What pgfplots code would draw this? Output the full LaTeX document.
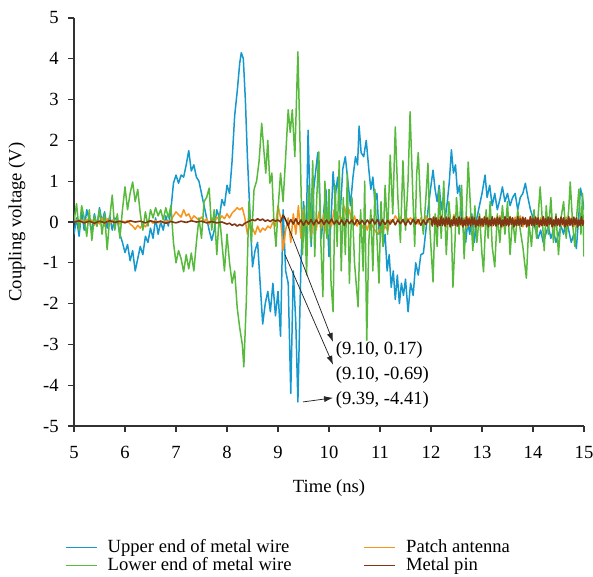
\documentclass[border=0pt]{standalone}
\usepackage{pgfplots}
\pgfplotsset{compat=1.18}
\usepackage{pgfplotstable}
\usepackage{fontspec}
\setmainfont{Liberation Serif}
\usetikzlibrary{arrows.meta}

\definecolor{cwireup}{RGB}{20,152,205}
\definecolor{cwirelow}{RGB}{88,186,60}
\definecolor{cpatch}{RGB}{247,148,30}
\definecolor{cpin}{RGB}{130,55,20}
\definecolor{axisgray}{RGB}{50,50,50}

% Upper end of metal wire
\pgfplotstableread{
t v
5.00 -0.30
5.05 0.10
5.10 -0.35
5.15 0.25
5.20 -0.20
5.25 0.30
5.30 0.05
5.35 -0.25
5.40 0.20
5.45 -0.10
5.50 0.35
5.55 0.00
5.60 0.25
5.65 -0.15
5.70 0.15
5.75 -0.20
5.80 0.10
5.85 0.05
5.90 -0.30
5.95 -0.50
6.00 -0.75
6.05 -0.55
6.10 -0.95
6.15 -0.70
6.20 -1.20
6.25 -0.90
6.30 -0.60
6.35 -0.80
6.40 -0.35
6.45 -0.50
6.50 -0.15
6.55 -0.40
6.60 0.10
6.65 -0.30
6.70 0.00
6.75 -0.20
6.80 0.15
6.85 -0.10
6.90 0.30
6.95 0.95
7.00 1.15
7.05 0.95
7.10 1.15
7.15 1.10
7.20 1.40
7.25 1.75
7.30 1.25
7.35 1.40
7.40 1.10
7.45 1.00
7.50 0.70
7.55 0.40
7.60 0.10
7.65 -0.20
7.70 -0.45
7.75 -0.20
7.80 0.30
7.85 0.10
7.90 0.55
7.95 0.40
8.00 0.90
8.05 0.70
8.10 1.50
8.15 2.60
8.20 3.20
8.25 3.90
8.28 4.15
8.32 4.00
8.36 3.00
8.40 1.60
8.45 0.20
8.50 -1.10
8.55 -0.70
8.60 -0.50
8.65 -1.50
8.70 -2.50
8.75 -2.00
8.80 -1.70
8.85 -2.20
8.90 -1.50
8.95 -2.30
9.00 -1.70
9.05 -2.80
9.10 0.30
9.15 -1.20
9.20 -1.50
9.25 -4.20
9.30 -1.20
9.35 -2.50
9.39 -4.41
9.45 -1.00
9.50 0.50
9.55 -0.60
9.59 2.25
9.65 -0.60
9.70 0.80
9.78 1.70
9.85 -0.40
9.90 0.30
9.94 0.80
10.00 -0.85
10.05 0.30
10.08 1.23
10.12 0.60
10.17 1.10
10.22 0.20
10.27 1.30
10.32 1.60
10.37 1.00
10.42 0.40
10.47 1.10
10.52 1.60
10.56 1.40
10.59 2.35
10.63 1.70
10.68 1.60
10.73 2.00
10.78 1.30
10.82 0.80
10.86 1.10
10.90 0.50
10.94 0.70
10.98 -0.30
11.02 0.20
11.06 -0.60
11.10 -0.30
11.14 -1.20
11.18 -0.80
11.22 -1.60
11.26 -1.20
11.30 -1.90
11.34 -1.30
11.38 -2.00
11.42 -1.50
11.46 -1.80
11.50 -1.40
11.55 -2.20
11.60 -1.50
11.65 -1.80
11.70 -1.00
11.75 -1.30
11.80 -0.80
11.85 -0.77
11.90 -0.20
11.95 0.40
12.00 0.90
12.04 1.27
12.08 0.80
12.12 0.50
12.16 0.90
12.20 0.30
12.24 0.60
12.28 0.10
12.32 0.50
12.36 1.00
12.40 1.77
12.44 1.20
12.48 1.40
12.52 0.70
12.56 0.90
12.60 0.10
12.64 -0.20
12.68 -0.50
12.72 0.00
12.76 -0.30
12.80 0.20
12.85 -0.50
12.90 0.10
12.95 0.40
13.00 0.70
13.06 1.15
13.10 0.60
13.15 0.90
13.20 0.40
13.25 0.70
13.30 0.30
13.35 0.55
13.40 0.86
13.45 0.50
13.50 0.70
13.55 0.40
13.60 0.60
13.65 0.70
13.70 0.30
13.75 0.60
13.80 0.70
13.85 0.95
13.90 0.60
13.95 0.30
14.00 0.10
14.05 -0.20
14.10 -0.40
14.15 -0.20
14.20 -0.50
14.25 -0.30
14.30 -0.10
14.35 -0.40
14.40 -0.20
14.45 -0.50
14.50 -0.30
14.55 -0.10
14.60 -0.30
14.65 0.10
14.70 -0.20
14.75 -0.50
14.80 -0.30
14.85 -0.65
14.90 0.20
14.93 0.83
14.97 0.60
15.00 0.30
}\upperwire

% Lower end of metal wire
\pgfplotstableread{
t v
5.00 0.00
5.05 0.45
5.10 -0.20
5.15 0.40
5.20 0.10
5.25 -0.35
5.30 0.30
5.35 -0.45
5.40 0.15
5.45 -0.10
5.50 0.30
5.55 -0.30
5.60 0.20
5.65 -0.68
5.70 0.10
5.75 0.66
5.80 -0.20
5.85 0.20
5.90 -0.40
5.95 0.30
6.00 0.86
6.05 0.30
6.10 0.70
6.15 0.98
6.20 0.50
6.25 0.80
6.30 0.20
6.35 -0.20
6.40 0.25
6.45 -0.10
6.50 0.30
6.55 0.10
6.60 0.35
6.65 0.15
6.70 0.30
6.75 0.05
6.80 0.35
6.85 0.10
6.90 0.40
6.95 -0.50
7.00 -1.00
7.05 -0.70
7.10 -0.90
7.15 -1.22
7.20 -0.80
7.25 -1.15
7.30 -0.76
7.35 -1.20
7.40 -0.50
7.45 0.10
7.50 -0.40
7.55 0.50
7.60 0.60
7.65 0.83
7.70 -0.20
7.75 0.30
7.80 -0.80
7.85 0.20
7.90 -0.50
7.95 -1.20
8.00 -0.30
8.05 -1.00
8.10 -1.50
8.15 -1.20
8.20 -2.10
8.25 -2.60
8.30 -3.00
8.33 -3.55
8.38 -1.90
8.43 0.50
8.48 -0.50
8.53 0.80
8.58 1.00
8.63 1.50
8.68 2.42
8.72 1.80
8.76 1.20
8.80 2.00
8.84 0.95
8.88 1.20
8.92 0.00
8.96 -0.60
9.00 0.30
9.05 1.20
9.10 0.50
9.15 1.60
9.20 2.75
9.24 2.20
9.28 2.75
9.33 1.60
9.39 4.17
9.44 1.50
9.48 -0.80
9.52 0.40
9.56 -1.30
9.60 0.90
9.64 -0.50
9.68 1.50
9.72 -0.85
9.76 0.60
9.80 1.72
9.84 -0.50
9.88 -1.83
9.92 1.00
9.96 -0.40
10.00 0.80
10.04 -1.50
10.08 -2.20
10.12 0.90
10.16 -0.60
10.20 1.50
10.24 -1.20
10.28 0.60
10.32 -0.80
10.36 1.20
10.40 -1.50
10.45 0.60
10.50 -1.00
10.57 -2.08
10.62 0.30
10.67 -1.20
10.70 1.00
10.74 -2.90
10.78 -0.50
10.82 0.30
10.86 -1.20
10.90 0.80
10.94 -0.40
10.98 -1.50
11.02 0.50
11.06 -0.60
11.10 0.90
11.15 -0.30
11.20 1.64
11.25 0.20
11.30 2.33
11.35 0.60
11.40 -0.50
11.45 1.50
11.50 -0.20
11.55 1.00
11.59 2.70
11.64 0.80
11.68 -0.60
11.72 1.20
11.75 1.70
11.80 0.30
11.85 -0.30
11.90 0.60
11.94 1.44
11.98 -0.20
12.04 -1.47
12.08 0.20
12.12 -0.60
12.16 0.80
12.20 -0.40
12.25 1.00
12.30 -0.80
12.35 0.50
12.40 -0.20
12.43 -1.60
12.47 -0.50
12.50 0.60
12.55 -0.30
12.60 0.90
12.65 -0.90
12.70 0.50
12.73 1.47
12.78 0.20
12.82 -0.70
12.86 0.40
12.90 -0.50
12.95 0.20
13.00 -0.80
13.03 -1.22
13.08 0.30
13.12 -0.40
13.16 0.50
13.20 -0.60
13.25 -1.10
13.30 0.20
13.35 -0.50
13.40 0.40
13.45 -0.30
13.50 0.50
13.55 -0.80
13.60 0.10
13.65 -0.50
13.70 0.30
13.75 -0.20
13.80 -0.60
13.87 -1.38
13.92 0.00
13.97 -0.60
14.02 0.30
14.07 -0.40
14.14 0.86
14.18 0.10
14.22 -0.70
14.26 0.40
14.30 -0.30
14.35 0.60
14.40 -0.50
14.45 0.20
14.50 -0.80
14.55 0.10
14.60 0.50
14.65 -0.40
14.70 0.30
14.73 0.98
14.78 -0.10
14.82 -0.60
14.86 0.20
14.90 0.80
14.94 -0.30
14.97 0.70
15.00 -0.85
}\lowerwire

% Patch antenna
\pgfplotstableread{
t v
5.00 0.00
5.05 0.05
5.10 -0.05
5.15 0.05
5.20 0.00
5.25 0.06
5.30 -0.04
5.35 0.05
5.40 -0.08
5.45 0.03
5.50 -0.05
5.55 0.10
5.60 -0.10
5.65 0.08
5.70 -0.05
5.75 0.05
5.80 0.00
5.85 0.04
5.90 -0.05
5.95 0.02
6.00 0.00
6.05 0.03
6.10 -0.05
6.15 -0.10
6.20 -0.18
6.25 -0.08
6.30 -0.15
6.35 -0.05
6.40 -0.12
6.45 -0.02
6.50 0.03
6.55 -0.03
6.60 0.04
6.65 -0.02
6.70 0.02
6.75 -0.02
6.80 0.03
6.85 0.00
6.90 0.05
6.95 0.15
7.00 0.25
7.05 0.18
7.10 0.12
7.15 0.30
7.20 0.15
7.25 0.20
7.30 0.05
7.35 0.15
7.40 0.10
7.45 0.05
7.50 0.12
7.55 0.02
7.60 0.08
7.65 -0.05
7.70 0.10
7.75 0.00
7.80 0.12
7.85 0.05
7.90 0.15
7.95 0.08
8.00 0.20
8.05 0.10
8.10 0.22
8.15 0.28
8.20 0.35
8.25 0.30
8.30 0.35
8.35 0.10
8.40 -0.30
8.45 -0.05
8.50 -0.15
8.55 -0.30
8.60 -0.10
8.65 -0.25
8.70 -0.15
8.75 -0.20
8.80 -0.10
8.85 -0.15
8.90 0.00
8.95 -0.10
9.00 0.40
9.05 0.10
9.10 -0.69
9.15 -0.20
9.20 0.10
9.25 -0.50
9.30 0.20
9.35 -0.30
9.40 0.40
9.45 -0.40
9.50 0.30
9.55 -0.10
9.60 0.15
9.65 -0.35
9.70 0.10
9.75 -0.20
9.80 0.25
9.85 -0.15
9.90 0.20
9.95 -0.30
10.00 0.10
10.05 -0.10
10.10 0.30
10.15 -0.05
10.20 0.15
10.25 0.05
10.30 0.38
10.35 0.10
10.40 0.30
10.45 -0.05
10.50 0.15
10.55 -0.10
10.60 0.05
10.65 -0.15
10.70 0.00
10.75 -0.20
10.80 0.05
10.85 -0.10
10.90 -0.20
10.95 -0.30
11.00 -0.15
11.05 -0.25
11.10 -0.10
11.15 -0.20
11.20 0.05
11.25 0.00
11.30 0.15
11.35 0.05
11.40 0.12
11.45 0.00
11.50 0.15
11.55 0.05
11.60 0.10
11.65 0.00
11.70 0.12
11.75 -0.05
11.80 0.10
11.85 -0.10
11.90 0.15
11.95 0.00
12.00 -0.05
12.05 0.12
12.10 -0.08
12.15 0.15
12.20 -0.10
12.25 0.10
12.30 -0.12
12.35 0.14
12.40 -0.06
12.45 0.18
12.50 -0.10
12.55 0.12
12.60 -0.08
12.65 0.10
12.70 -0.14
12.75 0.12
12.80 -0.05
12.85 0.15
12.90 -0.10
12.95 0.08
13.00 -0.12
13.05 0.14
13.10 -0.06
13.15 0.16
13.20 -0.10
13.25 0.10
13.30 -0.08
13.35 0.15
13.40 -0.12
13.45 0.10
13.50 -0.06
13.55 0.14
13.60 -0.10
13.65 0.12
13.70 -0.08
13.75 0.15
13.80 -0.12
13.85 0.08
13.90 -0.10
13.95 0.14
14.00 -0.06
14.05 0.12
14.10 -0.12
14.15 0.10
14.20 -0.08
14.25 0.14
14.30 -0.10
14.35 0.08
14.40 -0.12
14.45 0.12
14.50 -0.06
14.55 0.10
14.60 -0.10
14.65 0.12
14.70 -0.08
14.75 0.10
14.80 -0.12
14.85 0.08
14.90 -0.06
14.95 0.12
15.00 0.05
}\patchant

% Metal pin
\pgfplotstableread{
t v
5.00 0.00
5.10 0.03
5.20 -0.02
5.30 0.02
5.40 -0.03
5.50 0.02
5.60 -0.02
5.70 0.03
5.80 -0.01
5.90 0.02
6.00 -0.02
6.10 0.03
6.20 0.00
6.30 0.02
6.40 -0.02
6.50 0.03
6.60 -0.01
6.70 0.02
6.80 -0.03
6.90 0.01
7.00 -0.02
7.10 0.02
7.20 -0.01
7.30 0.03
7.40 0.00
7.50 0.02
7.60 -0.02
7.70 0.01
7.80 -0.02
7.90 0.00
8.00 -0.05
8.05 -0.03
8.10 -0.08
8.15 -0.05
8.20 -0.10
8.25 -0.06
8.30 -0.09
8.35 -0.03
8.40 0.00
8.45 0.03
8.50 0.06
8.55 0.03
8.60 0.08
8.65 0.04
8.70 0.07
8.75 0.02
8.80 0.05
8.85 0.01
8.90 0.06
8.95 0.02
9.00 0.05
9.05 0.00
9.10 0.17
9.15 0.05
9.20 -0.08
9.25 0.06
9.30 -0.05
9.35 0.08
9.40 -0.06
9.45 0.05
9.50 -0.08
9.55 0.04
9.60 -0.05
9.65 0.06
9.70 -0.07
9.75 0.05
9.80 -0.04
9.85 0.06
9.90 -0.06
9.95 0.05
10.00 -0.04
10.05 0.07
10.10 -0.05
10.15 0.04
10.20 -0.06
10.25 0.05
10.30 -0.08
10.35 0.06
10.40 -0.04
10.45 0.05
10.50 -0.07
10.55 0.06
10.60 -0.05
10.65 0.04
10.70 -0.06
10.75 0.05
10.80 -0.04
10.85 0.07
10.90 -0.05
10.95 0.06
11.00 -0.08
11.05 0.05
11.10 -0.06
11.15 0.04
11.20 -0.05
11.25 0.06
11.30 -0.07
11.35 0.05
11.40 -0.04
11.45 0.06
11.50 -0.08
11.55 0.05
11.60 -0.06
11.65 0.07
11.70 -0.05
11.75 0.06
11.80 -0.08
11.85 0.05
11.90 -0.06
11.95 0.07
12.000 0.08
12.025 -0.10
12.050 0.12
12.075 -0.06
12.100 0.10
12.125 -0.12
12.150 0.05
12.175 -0.09
12.200 0.13
12.225 -0.08
12.250 0.08
12.275 -0.10
12.300 0.12
12.325 -0.06
12.350 0.10
12.375 -0.12
12.400 0.05
12.425 -0.09
12.450 0.13
12.475 -0.08
12.500 0.08
12.525 -0.10
12.550 0.12
12.575 -0.06
12.600 0.10
12.625 -0.12
12.650 0.05
12.675 -0.09
12.700 0.13
12.725 -0.08
12.750 0.08
12.775 -0.10
12.800 0.12
12.825 -0.06
12.850 0.10
12.875 -0.12
12.900 0.05
12.925 -0.09
12.950 0.13
12.975 -0.08
13.000 0.08
13.025 -0.10
13.050 0.12
13.075 -0.06
13.100 0.10
13.125 -0.12
13.150 0.05
13.175 -0.09
13.200 0.13
13.225 -0.08
13.250 0.08
13.275 -0.10
13.300 0.12
13.325 -0.06
13.350 0.10
13.375 -0.12
13.400 0.05
13.425 -0.09
13.450 0.13
13.475 -0.08
13.500 0.08
13.525 -0.10
13.550 0.12
13.575 -0.06
13.600 0.10
13.625 -0.12
13.650 0.05
13.675 -0.09
13.700 0.13
13.725 -0.08
13.750 0.08
13.775 -0.10
13.800 0.12
13.825 -0.06
13.850 0.10
13.875 -0.12
13.900 0.05
13.925 -0.09
13.950 0.13
13.975 -0.08
14.000 0.08
14.025 -0.10
14.050 0.12
14.075 -0.06
14.100 0.10
14.125 -0.12
14.150 0.05
14.175 -0.09
14.200 0.13
14.225 -0.08
14.250 0.08
14.275 -0.10
14.300 0.12
14.325 -0.06
14.350 0.10
14.375 -0.12
14.400 0.05
14.425 -0.09
14.450 0.13
14.475 -0.08
14.500 0.08
14.525 -0.10
14.550 0.12
14.575 -0.06
14.600 0.10
14.625 -0.12
14.650 0.05
14.675 -0.09
14.700 0.13
14.725 -0.08
14.750 0.08
14.775 -0.10
14.800 0.12
14.825 -0.06
14.850 0.10
14.875 -0.12
14.900 0.05
14.925 -0.09
14.950 0.13
14.975 -0.08
15.000 0.04
}\metalpin

\begin{document}
\fontsize{18.6}{21}\selectfont
\begin{tikzpicture}
\useasboundingbox (-74pt,-150pt) rectangle (519pt,426pt);
\begin{axis}[
  scale only axis,
  width=510pt, height=408pt,
  xmin=5, xmax=15, ymin=-5, ymax=5,
  xtick={5,...,15}, ytick={-5,...,5},
  minor tick num=0,
  axis x line*=bottom, axis y line*=left,
  axis line style={axisgray, line width=1.1pt},
  tick style={axisgray, line width=1.1pt},
  tick align=outside,
  major tick length=6pt,
  /pgf/number format/assume math mode=true,
  xticklabel style={yshift=-8pt},
  yticklabel style={xshift=-3pt},
  xlabel={Time (ns)},
  ylabel={Coupling voltage (V)},
  xlabel style={yshift=-8pt},
  ylabel style={yshift=5pt},
  legend columns=2,
  legend cell align=left,
  legend image code/.code={%
    \draw[mark repeat=2,mark phase=2,#1]
      plot coordinates {(0pt,0pt) (15.5pt,0pt) (31pt,0pt)};
    \path (39pt,0pt);},
  legend style={draw=none, fill=none, at={(0,0)}, anchor=north west,
    xshift=-12pt, yshift=-109.5pt, row sep=-2pt,
    /tikz/every even column/.append style={column sep=70pt}},
  every axis plot/.append style={line join=round},
]
\addplot[color=cwireup, line width=1.5pt] table[x=t, y=v] {\upperwire};
\addlegendentry{Upper end of metal wire}
\addplot[color=cpatch, line width=1.5pt] table[x=t, y=v] {\patchant};
\addlegendentry{Patch antenna}
\addplot[color=cwirelow, line width=1.5pt] table[x=t, y=v] {\lowerwire};
\addlegendentry{Lower end of metal wire}
\addplot[color=cpin, line width=1.6pt] table[x=t, y=v] {\metalpin};
\addlegendentry{Metal pin}

% value callouts
\draw[-{Latex[length=9pt,width=6pt]}, line width=0.75pt, black!85]
  (axis cs:9.12,0.15) -- (axis cs:10.08,-2.94);
\draw[-{Latex[length=9pt,width=6pt]}, line width=0.75pt, black!85]
  (axis cs:9.14,-0.81) -- (axis cs:10.08,-3.50);
\draw[-{Latex[length=9pt,width=6pt]}, line width=0.75pt, black!85]
  (axis cs:9.49,-4.41) -- (axis cs:10.08,-4.31);
\node[anchor=west, inner sep=0pt] at (axis cs:10.13,-3.14) {(9.10, 0.17)};
\node[anchor=west, inner sep=0pt] at (axis cs:10.13,-3.76) {(9.10, -0.69)};
\node[anchor=west, inner sep=0pt] at (axis cs:10.13,-4.36) {(9.39, -4.41)};
\end{axis}
\end{tikzpicture}
\end{document}
